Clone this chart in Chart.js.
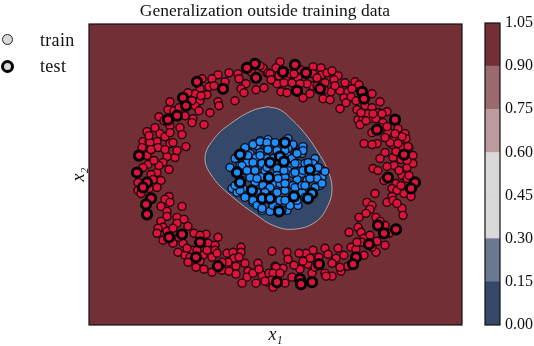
<!DOCTYPE html>
<html>
<head>
<meta charset="utf-8">
<title>Generalization outside training data</title>
<script src="https://cdn.jsdelivr.net/npm/chart.js@4/dist/chart.umd.min.js"></script>
<style>
  html, body { margin: 0; padding: 0; background: #fff; }
  #wrap { position: relative; width: 534px; height: 346px; overflow: hidden; font-family: "Liberation Serif", serif; color: #111; }
  #main { position: absolute; left: 0; top: 0; }
  #bar { position: absolute; left: 475px; top: 0; }
  .key { position: absolute; left: 40px; font-size: 18px; line-height: 18px; letter-spacing: 0.3px; }
  .dot { position: absolute; border-radius: 50%; background: #dbd8db; box-sizing: border-box; }
</style>
</head>
<body>
<div id="wrap">
  <canvas id="main" width="534" height="346"></canvas>
  <canvas id="bar" width="59" height="346"></canvas>
  <div class="dot" style="left:2px;top:34px;width:11px;height:11px;border:1px solid #222"></div>
  <div class="key" id="key0" style="top:31px"></div>
  <div class="dot" style="left:1px;top:60px;width:13px;height:13px;border:3px solid #000"></div>
  <div class="key" id="key1" style="top:57px"></div>
</div>
<script>
const titleText = "Generalization outside training data";
const legendNames = ["train", "test"];
const xLabel = "x₁";
const yLabel = "x₂";

// contour levels of the colorbar
const levels = [0, 0.15, 0.3, 0.45, 0.6, 0.75, 0.9, 1.05];
const levelColors = ["#34496a", "#6a7890", "#dbd8db", "#dbd8db", "#bc9a9d", "#9b6a6d", "#722f35"];

// boundary of the low-value region
const regionEdge = [
  [178, 219], [191, 216], [204, 205], [216, 192], [228, 175], [238, 157], [243, 138], [239, 120], [226, 103],
  [203, 96], [184, 100], [168, 110], [144, 128], [124, 148], [116, 168], [126, 188], [143, 203], [163, 215], [178, 219]
];

const ringTrain = [
  [140,253],[129,251],[123,247],[113,247],[136,244],[120,239],[111,237],[118,231],[106,232],[99,233],[81,224],[129,224],
  [146,225],[130,220],[111,225],[106,220],[103,225],[121,213],[79,216],[70,209],[104,207],[115,201],[103,203],[96,210],
  [66,198],[81,200],[91,198],[58,194],[71,192],[76,189],[81,193],[93,191],[54,184],[60,184],[68,184],[81,182],[84,183],
  [97,179],[69,178],[53,178],[149,252],[178,253],[188,258],[174,258],[188,242],[157,242],[152,237],[155,233],[167,236],
  [175,238],[179,253],[171,260],
  [191,264],[187,258],[181,252],[198,249],[203,243],[209,248],[192,234],[198,233],[214,228],[221,232],[224,259],[232,258],
  [224,252],[233,251],[238,253],[249,250],[245,246],[236,243],[223,240],[228,240],[242,234],[234,227],[241,226],[251,235],
  [256,243],[266,244],[270,241],[259,234],[263,237],[255,228],[257,223],[251,217],[283,232],[291,224],[276,220],[268,216],
  [283,218],[290,213],[298,214],[269,206],[274,207],[271,201],[281,207],[287,207],[294,203],[299,194],[283,193],[309,197],
  [316,192],[317,187],[303,185],[313,189],[275,182],[288,182],[303,181],[313,178],[320,178],[279,212],[284,212],[218,242],
  [211,242],[201,252],
  [61,183],[78,169],[86,168],[74,163],[80,156],[59,161],[54,158],[68,153],[62,151],[72,145],[49,143],[68,138],[49,135],
  [52,132],[80,129],[76,126],[81,123],[72,119],[78,114],[93,119],[78,109],[88,108],[95,106],[72,104],[99,99],[88,102],
  [74,98],[69,97],[68,92],[105,92],[117,91],[129,88],[111,90],[74,85],[84,82],[94,82],[103,75],[119,82],[126,80],[89,73],
  [126,75],[96,70],[101,68],[114,70],[123,68],[111,64],[99,63],[107,58],[115,56],[123,53],[133,55],[138,72],[144,73],
  [152,78],[152,73],[145,67],[183,74],[139,63],[147,59],[156,62],[169,62],[140,54],[147,51],[159,54],[158,48],[153,42],
  [167,42],[173,50],[180,52],[186,59],[184,47],[179,43],[184,38],[164,52],
  [283,181],[301,183],[319,179],[296,173],[291,167],[304,168],[324,170],[318,158],[305,160],[324,162],[313,150],[284,157],
  [289,155],[307,142],[303,137],[308,135],[315,132],[303,129],[322,129],[298,123],[286,132],[278,123],[283,120],[281,116],
  [313,117],[314,110],[270,108],[287,108],[260,93],[269,98],[272,93],[296,100],[275,87],[273,83],[288,84],[296,80],[287,73],
  [262,78],[267,76],[275,70],[236,77],[249,77],[239,71],[224,75],[217,72],[210,72],[198,73],[199,66],[247,67],[259,59],
  [219,61],[211,56],[194,57],[187,58],[252,54],[243,49],[223,52],[236,52],[203,48],[184,52],[196,42],[183,45],[251,58],
  [237,49],[221,67],
  [190,250],[195,243],[205,252],[212,256],[228,248],[243,255],[235,236],[246,240],[262,229],[267,225],[272,213],[293,212],
  [277,205],[292,198],[298,199],[306,192],[296,188],[309,182],[307,174],[312,166],[318,165],[298,159],[310,155],[318,147],
  [312,140],[295,145],[320,150],[304,125],[308,122],[277,112],[291,104],[300,92],[281,90],[283,78],[268,83],[255,70],
  [243,62],[230,68],[226,58],[214,64],[205,60],[191,52],[176,44],[170,56],[150,68],[133,63],[128,72],[118,75],[108,75],
  [98,77],[90,88],[78,94],[84,97],[60,137],[64,146],[70,160],[65,165],[58,170],[62,176],[76,176],[88,175],[75,205],
  [85,215],[90,218],[110,215],[112,230],[125,240],[150,247],[162,254],[182,246],[60,190]
];
const ringTest = [
  [166,262],[158,258],[167,248],[108,244],[134,237],[94,228],[97,220],[88,210],[79,206],
  [194,254],[206,261],[217,253],[208,235],[231,237],[273,234],[275,227],[306,206],[288,196],
  [50,170],[48,153],[58,143],[54,138],[62,127],[57,121],[58,111],[80,88],[93,91],[111,83],[107,68],[129,59],[188,43],
  [315,171],[299,148],[326,143],[322,137],[289,100],[295,92],[307,96],[280,81],[267,68],[264,61],[230,61],[211,46],[212,41],[223,43]
];
const coreTrain = [
  [179,186],[171,185],[165,182],[156,177],[199,187],[214,179],[204,180],[178,177],[185,182],[164,168],[171,173],[146,167],
  [213,172],[226,167],[208,173],[198,173],[166,163],[173,160],[158,163],[141,158],[156,155],[165,155],[188,157],[201,160],
  [209,162],[216,162],[199,155],[213,152],[231,157],[235,154],[226,155],[233,148],[221,148],[208,146],[196,148],[173,149],
  [153,145],[166,143],[143,137],[148,133],[156,130],[174,140],[184,142],[198,142],[207,138],[214,140],[231,140],[226,138],
  [188,133],[196,135],[154,137],[213,133],[198,125],[191,125],[171,120],[164,123],[181,114],[209,120],[198,115],[201,120],
  [173,115],[216,128],[184,120],[161,148],[178,167],[188,170],[203,167],[224,162],[178,135],[204,152],[188,150],[181,138],
  [168,133],[218,145],[228,147],[171,167],[151,160],[161,172],[194,163],[208,125],[176,155],[168,180],[204,140],[191,142],
  [164,181],[171,184],[178,183],[186,183],[179,176],[156,178],[159,170],[153,172],[167,168],[171,170],[164,163],[173,162],
  [153,160],[148,155],[158,155],[166,155],[178,158],[184,167],[188,175],[194,183],[204,181],[199,177],[214,175],[196,175],
  [208,172],[206,162],[194,164],[219,163],[229,158],[206,153],[195,155],[219,153],[236,154],[214,155],[168,147],[181,148],
  [189,147],[149,142],[151,135],[156,128],[163,133],[176,133],[181,127],[164,125],[168,120],[173,117],[189,117],[146,140],
  [196,142],[206,138],[213,140],[221,147],[233,142],[223,133],[206,130],[196,125],[193,115],[219,128],[216,140]
];
const coreTest = [
  [151,171],[196,183],[181,163],[191,169],[195,164],[148,153],[221,156],[180,148],[163,135],[173,127],[181,127],[205,129],
  [223,132],[190,114],[219,127],[151,143]
];

const toPoints = (pairs) => pairs.map((p) => ({ x: p[0], y: p[1] }));

document.getElementById("key0").textContent = legendNames[0];
document.getElementById("key1").textContent = legendNames[1];

// fills the plot background with the top level and draws the box round it
const frame = {
  id: "frame",
  beforeDatasetsDraw(chart, args, opts) {
    const a = chart.chartArea;
    chart.ctx.save();
    chart.ctx.fillStyle = opts.color;
    chart.ctx.fillRect(a.left, a.top, a.width, a.height);
    chart.ctx.restore();
  },
  afterDraw(chart) {
    const a = chart.chartArea;
    const ctx = chart.ctx;
    ctx.save();
    ctx.strokeStyle = "#111";
    ctx.lineWidth = 1.2;
    ctx.strokeRect(a.left, a.top, a.width, a.height);
    ctx.restore();
  }
};

const serif = "'Liberation Serif', serif";
const dotEdge = "rgba(20,5,10,0.92)";

new Chart(document.getElementById("main"), {
  type: "scatter",
  plugins: [frame],
  data: {
    datasets: [
      { label: "region", data: toPoints(regionEdge), showLine: true, fill: "shape", tension: 0.4,
        backgroundColor: levelColors[0], borderColor: "#b0a6ab", borderWidth: 1, pointRadius: 0, order: 5 },
      { label: "train", data: toPoints(ringTrain), backgroundColor: "#dc143c", borderColor: dotEdge,
        borderWidth: 1.4, pointRadius: 4, order: 4 },
      { label: "train", data: toPoints(coreTrain), backgroundColor: "#1e90ff", borderColor: dotEdge,
        borderWidth: 1.4, pointRadius: 4, order: 3 },
      { label: "test", data: toPoints(ringTest), backgroundColor: "#dc143c", borderColor: "#000",
        borderWidth: 3, pointRadius: 4.6, order: 2 },
      { label: "test", data: toPoints(coreTest), backgroundColor: "#1e90ff", borderColor: "#000",
        borderWidth: 3, pointRadius: 4.6, order: 1 }
    ]
  },
  options: {
    responsive: false,
    animation: false,
    layout: { padding: { left: 68, right: 72, top: 0, bottom: 0 } },
    plugins: {
      legend: { display: false },
      tooltip: { enabled: false },
      frame: { color: levelColors[6] },
      title: {
        display: true, text: titleText, color: "#111",
        padding: { top: 1, bottom: 2 },
        font: { family: serif, size: 17.5, weight: "normal" }
      }
    },
    scales: {
      x: {
        type: "linear", min: 0, max: 373,
        grid: { display: false }, border: { display: false }, ticks: { display: false },
        title: { display: true, text: xLabel, color: "#111", padding: { top: 4, bottom: 0 },
          font: { family: serif, size: 18, style: "italic" } },
        afterFit(scale) { scale.height = 21; }
      },
      y: {
        type: "linear", min: 0, max: 302,
        grid: { display: false }, border: { display: false }, ticks: { display: false },
        title: { display: true, text: yLabel, color: "#111", padding: { top: 0, bottom: 4 },
          font: { family: serif, size: 18, style: "italic" } },
        afterFit(scale) { scale.width = 21; }
      }
    }
  }
});

// colorbar: one floating bar per contour band
new Chart(document.getElementById("bar"), {
  type: "bar",
  plugins: [frame],
  data: {
    labels: [""],
    datasets: levelColors.map((c, i) => ({
      data: [[levels[i], levels[i + 1]]],
      backgroundColor: c,
      barPercentage: 1,
      categoryPercentage: 1,
      grouped: false
    }))
  },
  options: {
    responsive: false,
    animation: false,
    layout: { padding: { left: 10, right: 0, top: 23, bottom: 21 } },
    plugins: { legend: { display: false }, tooltip: { enabled: false }, frame: { color: levelColors[6] } },
    scales: {
      x: { display: false },
      y: {
        position: "right", min: 0, max: 1.05,
        grid: { display: false, drawTicks: false }, border: { display: false },
        afterBuildTicks(scale) { scale.ticks = levels.map((v) => ({ value: v })); },
        ticks: {
          color: "#111", padding: 5, font: { family: serif, size: 16 },
          callback: (v) => Number(v).toFixed(2)
        },
        afterFit(scale) { scale.width = 34; }
      }
    }
  }
});
</script>
</body>
</html>
